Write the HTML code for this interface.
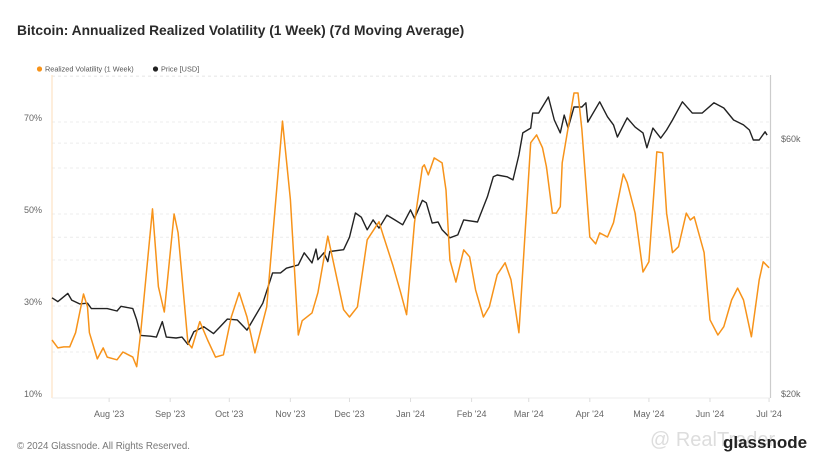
<!DOCTYPE html>
<html><head><meta charset="utf-8"><style>
body{margin:0;background:#fff;font-family:"Liberation Sans",sans-serif;}
svg{display:block}
</style></head><body>
<svg id="c" width="828" height="466" viewBox="0 0 828 466">
<text x="17" y="35" font-size="13.8" font-weight="bold" fill="#2a2a2a">Bitcoin: Annualized Realized Volatility (1 Week) (7d Moving Average)</text>
<g>
<circle cx="39.5" cy="69" r="2.6" fill="#f7931a"/>
<text x="45" y="71.5" font-size="7.3" fill="#555">Realized Volatility (1 Week)</text>
<circle cx="155.5" cy="69" r="2.6" fill="#222"/>
<text x="161" y="71.5" font-size="7.3" fill="#555">Price [USD]</text>
</g>
<g id="grid"></g>
<line x1="52" y1="75" x2="52" y2="398" stroke="#fde3c4" stroke-width="1.2"/>
<line x1="770.5" y1="75" x2="770.5" y2="398" stroke="#ccc" stroke-width="1.2"/>
<line x1="52" y1="398" x2="770" y2="398" stroke="#eee" stroke-width="1"/>
<g id="axes"></g>
<g id="series"></g>
<text x="17" y="449" font-size="9.7" fill="#777">© 2024 Glassnode. All Rights Reserved.</text>
<text x="650" y="446" font-size="20" fill="#ddd">@ RealTrader</text>
<text x="723" y="448" font-size="17" font-weight="bold" fill="#222">glassnode</text>
</svg>
<script>
const monthLabels=["Aug '23","Sep '23","Oct '23","Nov '23","Dec '23","Jan '24","Feb '24","Mar '24","Apr '24","May '24","Jun '24","Jul '24"];
const monthDays=[29,60,90,121,151,182,213,242,273,303,334,364];
const volTicks=[10,30,50,70];
const volGrid=[20,40,60,80];
const priceTicks=[20,60];
const priceGrid=[40,80];
const volDays=[0,3,6,9,12,16,18,19,23,26,28,33,36,41,43,45,51,54,57,62,64,69,71,75,79,83,87,91,95,99,103,106,109,117,121,125,127,132,135,140,148,151,155,160,166,168,173,177,180,184,188,189,191,194,198,200,202,205,209,212,215,219,222,226,230,233,237,243,246,249,251,254,256,258,259,265,267,269,273,276,278,282,285,290,292,296,300,303,307,310,312,315,318,322,324,326,331,334,338,341,345,348,351,355,359,361,364];
const volValues=[22.6,20.9,21.1,21.1,24.2,32.6,29.8,24.2,18.5,20.9,18.9,18.3,20.0,18.9,16.8,24.2,51.1,34.2,28.7,50.0,45.9,22.0,20.9,26.6,22.6,18.9,19.4,27.6,32.9,27.6,19.8,24.8,29.8,70.2,53.1,23.7,26.8,28.5,32.9,45.2,29.2,27.6,29.8,44.4,48.3,45.5,38.9,32.9,28.1,48.1,60.2,60.7,58.5,62.2,61.1,55.2,40.0,35.2,42.2,40.7,33.5,27.6,29.8,36.8,39.4,35.7,24.2,65.5,67.2,64.4,60.2,50.2,50.2,51.6,61.1,76.3,76.3,68.3,45.0,43.5,45.9,45.0,48.1,58.7,56.8,50.2,37.4,39.6,63.5,63.3,50.2,41.6,42.9,50.2,48.7,49.4,41.6,27.0,23.7,25.5,31.3,33.9,31.3,23.3,35.7,39.6,38.3];
const priceDays=[0,3,8,10,14,18,20,28,33,35,41,43,45,50,53,56,58,63,66,69,72,77,82,85,89,94,99,103,107,112,116,119,125,128,132,134,135,138,140,141,148,151,154,157,160,163,166,170,174,178,182,184,188,190,193,196,198,202,206,209,216,221,224,226,231,234,237,239,243,244,247,252,255,258,260,262,265,269,271,272,278,282,285,287,292,296,300,302,305,309,312,315,320,325,330,336,341,346,351,354,356,359,362,363];
const priceValues=[30.8,30.3,31.4,30.5,30.0,30.1,29.4,29.4,29.1,29.7,29.4,28.0,26.2,26.1,26.0,27.8,26.0,25.9,26.0,25.2,26.6,27.2,26.4,27.1,28.1,28.0,26.8,28.4,30.1,34.3,34.3,35.0,35.5,37.4,35.8,38.0,36.3,37.4,36.0,37.6,37.9,40.0,44.4,43.6,41.3,43.1,41.6,44.0,43.1,42.2,45.0,43.4,46.9,46.4,42.5,42.7,41.3,39.9,40.4,43.1,42.7,47.6,51.9,52.3,51.9,51.2,57.0,62.7,64.0,68.3,68.3,73.2,66.3,62.7,67.7,64.0,70.1,70.1,71.4,65.7,71.7,67.2,64.9,61.6,66.9,64.3,62.7,58.8,64.0,61.3,63.5,66.3,71.7,68.3,68.3,71.4,69.8,66.3,64.9,63.5,60.8,60.8,63.0,62.1];

const NS="http://www.w3.org/2000/svg";
function xS(d){return 52+d*1.97;}
function yVol(v){return 398-(v-10)*4.6;}
function yPrice(p){return 398-Math.log(p/20)*232;}
function mk(tag,attrs,parent){const e=document.createElementNS(NS,tag);for(const k in attrs)e.setAttribute(k,attrs[k]);document.getElementById(parent).appendChild(e);return e;}

volTicks.concat(volGrid).forEach(v=>{
  if(v===10)return;
  const l=mk('line',{x1:52,x2:770,y1:yVol(v),y2:yVol(v),stroke:'#ececec','stroke-dasharray':'3,3'},'grid');
  
  
});
priceTicks.concat(priceGrid).forEach(p=>{
  if(p===20)return;
  const l=mk('line',{x1:52,x2:770,y1:yPrice(p),y2:yPrice(p),stroke:'#ececec','stroke-dasharray':'3,3'},'grid');
  
  
});
volTicks.forEach(v=>{
  const t=mk('text',{x:42,y:yVol(v)-1,'text-anchor':'end','font-size':9,fill:'#666'},'axes');
  t.textContent=v+'%';
  
  
});
priceTicks.forEach(p=>{
  const t=mk('text',{x:781,y:yPrice(p)-1,'font-size':9,fill:'#666'},'axes');
  t.textContent='$'+p+'k';
  
  
});
monthDays.forEach((d,i)=>{
  const tk=mk('line',{x1:xS(d),x2:xS(d),y1:398,y2:402,stroke:'#ddd'},'axes');
  
  
  const t=mk('text',{x:xS(d),y:417,'text-anchor':'middle','font-size':9,fill:'#666'},'axes');
  t.textContent=monthLabels[i];
  
  
});
const pp=priceDays.map((d,i)=>xS(d).toFixed(1)+','+yPrice(priceValues[i]).toFixed(1)).join(' ');
const pl=mk('polyline',{points:pp,fill:'none',stroke:'#222','stroke-width':1.4,'stroke-linejoin':'round'},'series');


const vp=volDays.map((d,i)=>xS(d).toFixed(1)+','+yVol(volValues[i]).toFixed(1)).join(' ');
const vl=mk('polyline',{points:vp,fill:'none',stroke:'#f7931a','stroke-width':1.5,'stroke-linejoin':'round'},'series');


</script>
</body></html>
